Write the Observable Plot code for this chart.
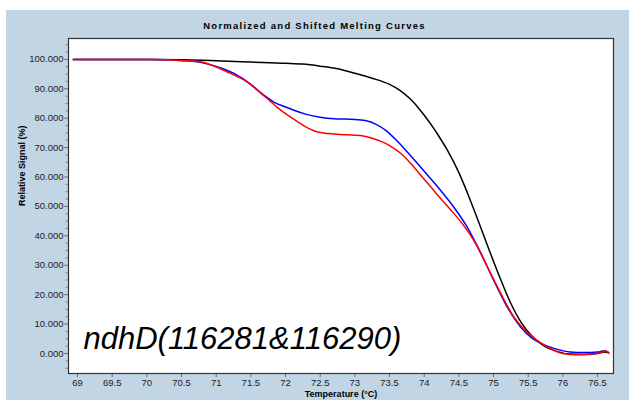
<!DOCTYPE html>
<html>
<head>
<meta charset="utf-8">
<script src="https://cdn.jsdelivr.net/npm/d3@7"></script>
<script src="https://cdn.jsdelivr.net/npm/@observablehq/plot@0.6"></script>
<style>
  html, body { margin: 0; padding: 0; background: #ffffff; }
  #wrap { position: relative; width: 629px; height: 400px; overflow: hidden; font-family: "Liberation Sans", Arial, sans-serif; }
  #panel { position: absolute; left: 6px; top: 10px; width: 623px; height: 390px; background: #c2d5e5; }
  #title { position: absolute; left: 6px; width: 617px; top: 20px; text-align: center; font-size: 9.5px; font-weight: bold; letter-spacing: 1.25px; color: #000; }
  #chart { position: absolute; left: 0; top: 0; }
  #chart svg { background: transparent !important; }
</style>
</head>
<body>
<div id="wrap">
  <div id="panel"></div>
  <div id="title">Normalized and Shifted Melting Curves</div>
  <div id="chart"></div>
</div>
<script>
// ---- Data ----
const titleText = "Normalized and Shifted Melting Curves";
const xLabel = "Temperature (°C)";
const yLabel = "Relative Signal (%)";
const sampleLabel = "ndhD(116281&116290)";

const xTicks = [69, 69.5, 70, 70.5, 71, 71.5, 72, 72.5, 73, 73.5, 74, 74.5, 75, 75.5, 76, 76.5];
const yTicks = [0, 10, 20, 30, 40, 50, 60, 70, 80, 90, 100];
const yMinorTicks = [-5, -2.5, 2.5, 5, 7.5, 12.5, 15, 17.5, 22.5, 25, 27.5, 32.5, 35, 37.5, 42.5, 45, 47.5, 52.5, 55, 57.5, 62.5, 65, 67.5, 72.5, 75, 77.5, 82.5, 85, 87.5, 92.5, 95, 97.5, 102.5, 105];

const blackT = [68.94, 69.5, 70.0, 70.5, 70.8, 71.0, 71.5, 72.0, 72.25, 72.5, 72.75, 73.0, 73.25, 73.5, 73.65, 73.8, 73.9, 74.0, 74.1, 74.2, 74.33, 74.5, 74.7, 74.9, 75.1, 75.25, 75.4, 75.55, 75.7, 75.9, 76.1, 76.3, 76.5, 76.6, 76.66];
const blackV = [100, 100, 100, 99.9, 99.7, 99.5, 99.1, 98.7, 98.4, 97.7, 96.8, 95.3, 93.6, 91.5, 89.5, 86.5, 84, 81, 77.8, 74.3, 69.3, 61.5, 50, 37.5, 25.3, 17, 10.5, 6, 3, 0.8, -0.2, -0.3, 0, 0.5, 0.2];

const blueT = [68.94, 69.5, 70.0, 70.3, 70.5, 70.77, 71.0, 71.25, 71.5, 71.65, 71.83, 72.0, 72.12, 72.3, 72.5, 72.7, 73.0, 73.15, 73.3, 73.45, 73.6, 73.75, 73.9, 74.05, 74.2, 74.42, 74.62, 74.81, 75.0, 75.2, 75.39, 75.55, 75.68, 75.92, 76.1, 76.3, 76.5, 76.6, 76.66];
const blueV = [100, 100, 100, 99.9, 99.6, 99.0, 97.6, 95.3, 91.5, 88.5, 85.5, 83.8, 82.7, 81.3, 80.3, 79.8, 79.6, 79.2, 78, 75.8, 72.5, 68.7, 64.7, 60.6, 56.5, 50, 43, 34.5, 25, 15.7, 9, 5.3, 3.5, 1.4, 0.5, 0.3, 0.5, 0.9, 0.4];

const redT = [68.94, 69.5, 70.0, 70.3, 70.5, 70.77, 71.0, 71.16, 71.3, 71.45, 71.6, 71.74, 71.88, 72.02, 72.15, 72.31, 72.45, 72.6, 72.8, 73.08, 73.25, 73.37, 73.5, 73.66, 73.8, 73.95, 74.1, 74.24, 74.38, 74.52, 74.71, 74.91, 75.1, 75.29, 75.45, 75.58, 75.72, 75.87, 76.0, 76.2, 76.4, 76.55, 76.6, 76.66];
const redV = [100, 100, 100, 99.9, 99.6, 99.2, 97.4, 95.7, 94.2, 92.3, 89.4, 86.6, 83.7, 81.2, 79.2, 76.8, 75.4, 74.8, 74.5, 74.1, 73.2, 72.2, 70.7, 68.1, 64.8, 60.6, 56.5, 52.6, 48.9, 45, 38.6, 29.5, 20.6, 12.5, 8, 5.3, 3, 1.1, 0, -0.4, -0.2, 0.3, 0.9, 0.2];

const seriesNames = ["black", "blue", "red"];
const seriesColors = ["#000000", "#0000ff", "#ff0000"];

// ---- Build table ----
function toRows(name, T, V) { return T.map((t, i) => ({series: name, t, v: V[i]})); }
const rows = [
  ...toRows("black", blackT, blackV),
  ...toRows("blue", blueT, blueV),
  ...toRows("red", redT, redV)
];

const font = "'Liberation Sans', Arial, sans-serif";

const chart = Plot.plot({
  width: 629,
  height: 400,
  marginLeft: 68,
  marginRight: 16,
  marginTop: 38,
  marginBottom: 27,
  style: {fontFamily: font, fontSize: "9.5px", background: "transparent", color: "#222"},
  x: {domain: [68.87, 76.73]},
  y: {domain: [-6.8, 107.1]},
  color: {domain: seriesNames, range: seriesColors},
  marks: [
    Plot.frame({fill: "#ffffff"}),
    Plot.axisY({ticks: yMinorTicks, tickSize: 2.5, text: null, stroke: "#8a8a8a", label: null}),
    Plot.axisY({ticks: yTicks, tickSize: 4, tickPadding: 1, stroke: "#707070", fill: "#222", tickFormat: d => d.toFixed(3), label: null}),
    Plot.axisX({ticks: xTicks, tickSize: 4, tickPadding: 2, stroke: "#707070", fill: "#222", tickFormat: d => String(d), label: null}),
    Plot.line(rows, {x: "t", y: "v", z: "series", stroke: "series", strokeWidth: 1.5, curve: "monotone-x"}),
    Plot.frame({stroke: "#333333", strokeWidth: 1.2}),
    Plot.text([sampleLabel], {frameAnchor: "bottom-left", dx: 15, dy: -25, fontSize: 31, fontStyle: "italic", textAnchor: "start", lineAnchor: "bottom", fill: "#000"}),
    Plot.text([yLabel], {frameAnchor: "left", rotate: -90, dx: -46, fontSize: 9, fontWeight: "bold", fill: "#000"}),
    Plot.text([xLabel], {frameAnchor: "bottom", dy: 23, fontSize: 9, fontWeight: "bold", fill: "#000"})
  ]
});
document.getElementById("chart").appendChild(chart);
document.getElementById("title").textContent = titleText;
</script>
</body>
</html>
